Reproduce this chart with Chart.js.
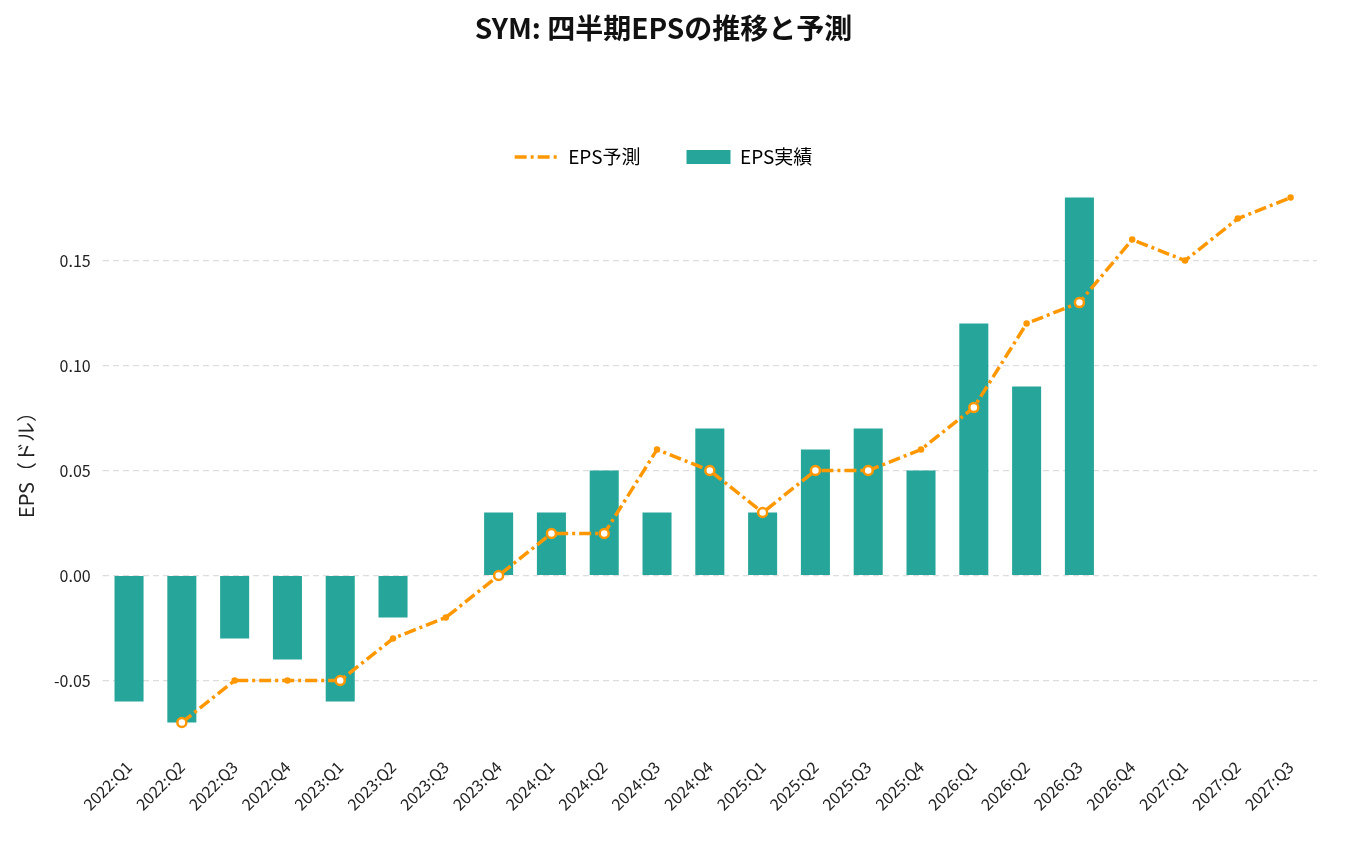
<!DOCTYPE html>
<html><head><meta charset="utf-8">
<script src="https://cdn.jsdelivr.net/npm/chart.js@4/dist/chart.umd.min.js"></script>
<style>html,body{margin:0;background:#fff}#w{width:1357px;height:846px}</style>
</head><body><div id="w"><canvas id="c"></canvas></div>
<script>
const categories=["2022:Q1","2022:Q2","2022:Q3","2022:Q4","2023:Q1","2023:Q2","2023:Q3","2023:Q4","2024:Q1","2024:Q2","2024:Q3","2024:Q4","2025:Q1","2025:Q2","2025:Q3","2025:Q4","2026:Q1","2026:Q2","2026:Q3","2026:Q4","2027:Q1","2027:Q2","2027:Q3"];
const epsActual=[-0.06,-0.07,-0.03,-0.04,-0.06,-0.02,null,0.03,0.03,0.05,0.03,0.07,0.03,0.06,0.07,0.05,0.12,0.09,0.18,null,null,null,null];
const epsForecast=[null,-0.07,-0.05,-0.05,-0.05,-0.03,-0.02,0.00,0.02,0.02,0.06,0.05,0.03,0.05,0.05,0.06,0.08,0.12,0.13,0.16,0.15,0.17,0.18];
const markedPoints=[1,4,7,8,9,11,12,13,14,16,18];
const yTicks=[-0.05,0,0.05,0.10,0.15];
const F='"Noto Sans CJK JP","Noto Sans",sans-serif';
const DASH=[12,4,3,4];
new Chart(document.getElementById('c'),{
 data:{labels:categories,datasets:[
  {type:'line',label:'EPS予測',data:epsForecast,borderColor:'#ff9800',backgroundColor:'#ff9800',borderWidth:3.5,borderDash:DASH,
   pointRadius:epsForecast.map((v,i)=>markedPoints.includes(i)?4.5:2),pointBackgroundColor:epsForecast.map((v,i)=>markedPoints.includes(i)?'#fff':'#ff9800'),
   pointBorderColor:'#ff9800',pointBorderWidth:2.5,tension:0,order:0},
  {type:'bar',label:'EPS実績',data:epsActual,backgroundColor:'#26a69a',barPercentage:0.55,categoryPercentage:1,order:1}
 ]},
 options:{responsive:true,maintainAspectRatio:false,animation:false,
  layout:{padding:{left:10,right:40,top:10,bottom:26}},
  plugins:{title:{display:true,text:'SYM: 四半期EPSの推移と予測',font:{family:F,size:28,weight:'bold'},color:'#111',padding:{top:2,bottom:56}},
   legend:{labels:{font:{family:F,size:19},color:'#222',usePointStyle:true,pointStyleWidth:44,boxHeight:14,padding:46,
    generateLabels:(ch)=>[{text:'EPS予測',fillStyle:'#ff9800',strokeStyle:'#ff9800',lineWidth:3.5,lineDash:DASH,pointStyle:'line',datasetIndex:0},
     {text:'EPS実績',fillStyle:'#26a69a',strokeStyle:'#26a69a',lineWidth:0,pointStyle:'rect',datasetIndex:1}]},padding:0}},
  scales:{x:{grid:{display:false},border:{display:false},ticks:{font:{family:F,size:16},color:'#222',maxRotation:45,minRotation:45,padding:6}},
   y:{min:-0.08,max:0.19,afterBuildTicks:a=>{a.ticks=yTicks.map(v=>({value:v}));},
    grid:{color:'#dddddd',lineWidth:1.2,tickLength:0},border:{display:false,dash:[6,4]},
    ticks:{font:{family:F,size:16},color:'#222',padding:12,callback:v=>v.toFixed(2)},
    title:{display:true,text:'EPS（ドル）',font:{family:F,size:20},color:'#222'}}}}
});
</script></body></html>
